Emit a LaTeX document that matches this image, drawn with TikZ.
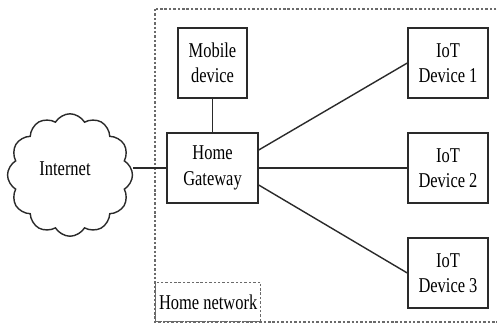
\documentclass[tikz,border=0pt]{standalone}
\usepackage{fontspec}
\setmainfont{Liberation Serif}[FakeStretch=0.78]
\usetikzlibrary{shapes.symbols, positioning}
\definecolor{strich}{HTML}{2A2A2A}

\tikzset{
  devbox/.style={draw=strich, line width=0.8pt, align=center, inner sep=0pt,
    minimum height=1.4cm, font=\fontsize{12}{14.5}\selectfont},
  link/.style={draw=strich, line width=0.8pt},
  netline/.style={draw=strich!70, line width=0.6pt, dash pattern=on 1.4pt off 1.1pt}
}

\begin{document}
\begin{tikzpicture}[x=0.02cm, y=-0.02cm]
      \useasboundingbox (0,0) rectangle (497,326);
      \clip (0,0) rectangle (497,326);

      % Home network frame
      \draw[netline] (155,9) rectangle (520,322);
      \node[netline, draw, anchor=south west, minimum width=2.06cm, minimum height=0.78cm,
        inner sep=2pt, font=\fontsize{12}{14.5}\selectfont] (hnet) at (155,322) {Home network};

      % Cloud
      \node[cloud, cloud puffs=12, cloud puff arc=120, aspect=1, draw=strich, line width=0.8pt,
        minimum width=2.5cm, minimum height=2.45cm, inner sep=0pt] (inet) at (70,175) {};
      \node[font=\fontsize{12}{14.5}\selectfont] (inettxt) at (65,169) {Internet};

      % Boxes
      \node[devbox, minimum width=1.38cm] (mobile) at (212.5,63) {Mobile\\device};
      \node[devbox, minimum width=1.82cm] (gw) at (212.5,168) {Home\\Gateway};
      \node[devbox, minimum width=1.6cm] (dev1) at (448,63) {IoT\\Device 1};
      \node[devbox, minimum width=1.6cm] (dev2) at (448,168) {IoT\\Device 2};
      \node[devbox, minimum width=1.6cm] (dev3) at (448,273) {IoT\\Device 3};

      % Links
      \draw[link] (gw.west) -- (inet.east |- gw.west);
      \draw[link] (gw.north) -- (mobile.south);
      \draw[link] ([yshift=0.36cm]gw.east) -- (dev1.west);
      \draw[link] (gw.east) -- (dev2.west);
      \draw[link] ([yshift=-0.34cm]gw.east) -- (dev3.west);
    \end{tikzpicture}
\end{document}
